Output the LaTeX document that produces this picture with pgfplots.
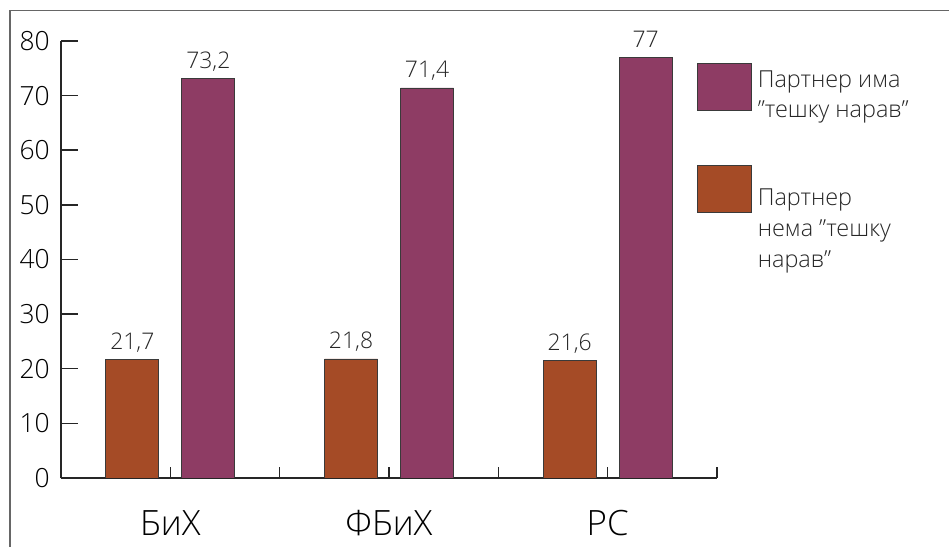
\documentclass[border=0pt]{standalone}
\usepackage{fontspec}
\setmainfont{Open Sans}[UprightFont={* Light}]
\usepackage{pgfplots}
\pgfplotsset{compat=1.18}
\definecolor{purp}{HTML}{8E3C64}
\definecolor{oran}{HTML}{A54B26}
\definecolor{edge}{HTML}{3A3A3A}
\begin{document}
\begin{tikzpicture}
\useasboundingbox (0bp,0bp) rectangle (949bp,547bp);
\draw[line width=1.5bp, color=black!60] (10bp,0bp) -- (10bp,536.5bp) -- (949bp,536.5bp);
\begin{axis}[
  at={(61bp,69bp)}, anchor=south west,
  scale only axis, width=656bp, height=437bp,
  xmin=-0.5, xmax=2.5, ymin=0, ymax=80,
  axis lines*=left,
  axis line style={line width=1.6bp, black!85},
  tick align=inside,
  ytick={0,10,...,80},
  major tick length=17bp,
  tick style={line width=1.5bp, black!85},
  xtick={-0.5,0.5,1.5,2.5}, xticklabels={},
  xtick style={/pgfplots/major tick length=11bp},
  extra x ticks={0,1,2},
  extra x tick labels={БиХ,ФБиХ,РС},
  extra x tick style={major tick length=0pt},
  xticklabel style={anchor=base, yshift=-57bp, font=\fontsize{35}{40}\selectfont},
  yticklabel style={anchor=east, inner sep=0pt, xshift=-11bp, font=\fontsize{26.5}{30}\selectfont},
  nodes near coords,
  nodes near coords align={anchor=base},
  every node near coord/.append style={yshift=10bp, inner sep=0pt, font=\fontsize{23}{26}\selectfont, black!85},
  legend cell align=left,
  legend style={at={(axis description cs:0.9695,0.9497)}, anchor=north west,
    draw=none, fill=none, inner sep=0pt, outer sep=0pt, row sep=45.5bp, column sep=6bp,
    nodes={inner sep=0pt, anchor=west, align=left, font=\fontsize{23.5}{31}\selectfont, black!85}},
  /pgf/number format/assume math mode=true,
  /pgf/number format/use comma,
  /pgf/number format/fixed,
  /pgf/number format/precision=1,
]
\addplot[ybar, bar width=53bp, bar shift=38bp, fill=purp, draw=edge, line width=0.8bp,
  every node near coord/.append style={xshift=38bp},
  legend image code/.code={\draw[fill=purp, draw=edge, line width=0.8bp] (0bp,-15.5bp) rectangle (54bp,31.5bp);}]
  coordinates {(0,73.2) (1,71.4) (2,77)};
\addlegendentry{Партнер има\\”тешку нарав”}
\addplot[ybar, bar width=53bp, bar shift=-38bp, fill=oran, draw=edge, line width=0.8bp,
  every node near coord/.append style={xshift=-38bp},
  legend image code/.code={\draw[fill=oran, draw=edge, line width=0.8bp] (0bp,16.5bp) rectangle (54bp,63.5bp);}]
  coordinates {(0,21.7) (1,21.8) (2,21.6)};
\addlegendentry{Партнер\\нема ”тешку\\нарав”}
\end{axis}
\end{tikzpicture}
\end{document}
